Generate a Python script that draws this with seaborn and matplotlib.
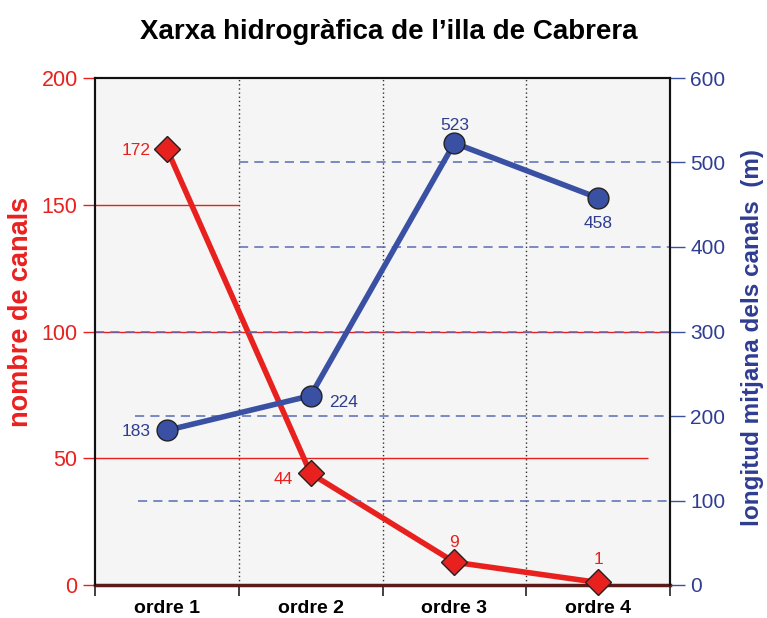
import matplotlib
matplotlib.use("Agg")
import matplotlib.pyplot as plt
import seaborn as sns
import pandas as pd
import numpy as np

categories = ["ordre 1", "ordre 2", "ordre 3", "ordre 4"]
nombre_canals = [172, 44, 9, 1]
longitud_mitjana = [183, 224, 523, 458]
left_ticks = [0, 50, 100, 150, 200]
right_ticks = [0, 100, 200, 300, 400, 500, 600]

RED = "#e8211f"
BLUE = "#3a50a3"
BLUE_TXT = "#2f3d92"

sns.set_theme(style="white")
plt.rcParams["font.family"] = ["Liberation Sans", "DejaVu Sans"]

df = pd.DataFrame({"ordre": categories, "n": nombre_canals, "l": longitud_mitjana})

fig = plt.figure(figsize=(7.67, 6.18), dpi=100)
ax = fig.add_axes([95/767, 1-585/618, 575/767, 507/618])
ax.set_facecolor("#f4f5f4")
ax2 = ax.twinx()

# vertical dotted separators
for xb in [0.5, 1.5, 2.5]:
    ax.axvline(xb, color="#333333", linestyle=(0, (1, 2)), linewidth=1.0, zorder=1)

# red grid (left axis)
ax.hlines(150, -0.5, 0.5, color=RED, linewidth=1.0, zorder=1)
ax.hlines(100, -0.5, 3.5, color=RED, linewidth=1.0, zorder=1)
ax.hlines(50, -0.5, 3.35, color=RED, linewidth=1.0, zorder=1)

# blue dashed grid (right axis)
dash = (0, (6, 4))
ax2.hlines(100, -0.2, 3.5, color="#5a6bb5", linewidth=1.1, linestyle=dash, zorder=1)
ax2.hlines(200, -0.22, 3.5, color="#5a6bb5", linewidth=1.1, linestyle=dash, zorder=1)
ax2.hlines(300, -0.5, 3.5, color="#5a6bb5", linewidth=1.1, linestyle=dash, zorder=1)
ax2.hlines(400, 0.5, 3.5, color="#5a6bb5", linewidth=1.1, linestyle=dash, zorder=1)
ax2.hlines(500, 0.5, 3.5, color="#5a6bb5", linewidth=1.1, linestyle=dash, zorder=1)

sns.lineplot(data=df, x="ordre", y="n", ax=ax, color=RED, linewidth=4,
             marker="D", markersize=13, markerfacecolor=RED, markeredgecolor="#222222",
             markeredgewidth=1.0, sort=False, zorder=3, clip_on=False)
sns.lineplot(data=df, x="ordre", y="l", ax=ax2, color=BLUE, linewidth=4,
             marker="o", markersize=15, markerfacecolor=BLUE, markeredgecolor="#222222",
             markeredgewidth=1.0, sort=False, zorder=3, clip_on=False)

ax.set_xlim(-0.5, 3.5)
ax.set_ylim(0, 200)
ax2.set_ylim(0, 600)

# annotations
red_off = [(-12, -1, "right", "center"), (-13, -4, "right", "center"),
           (0, 9, "center", "bottom"), (0, 11, "center", "bottom")]
for i, (v, (dx, dy, ha, va)) in enumerate(zip(nombre_canals, red_off)):
    ax.annotate(str(v), (i, v), xytext=(dx, dy), textcoords="offset points",
                ha=ha, va=va, color=RED, fontsize=12.5)
blue_off = [(-12, -1, "right", "center"), (13, -5, "left", "center"),
            (0, 7, "center", "bottom"), (0, -13, "center", "top")]
for i, (v, (dx, dy, ha, va)) in enumerate(zip(longitud_mitjana, blue_off)):
    ax2.annotate(str(v), (i, v), xytext=(dx, dy), textcoords="offset points",
                 ha=ha, va=va, color=BLUE_TXT, fontsize=12.5)

# axes styling
ax.set_yticks(left_ticks)
ax.set_yticklabels([str(t) for t in left_ticks])
ax.tick_params(axis="y", colors=RED, labelcolor=RED, labelsize=15.5, length=9, width=1, direction="out", left=True)
ax2.set_yticks(right_ticks)
ax2.set_yticklabels([str(t) for t in right_ticks])
ax2.tick_params(axis="y", colors=BLUE, labelcolor=BLUE_TXT, labelsize=15, length=11, width=1, direction="out", right=True)

ax.set_xticks(range(len(categories)))
ax.set_xticklabels(categories, fontsize=14, fontweight="bold", color="#000000")
ax.tick_params(axis="x", length=0, pad=11)
ax.set_xticks([-0.5, 0.5, 1.5, 2.5, 3.5], minor=True)
ax.tick_params(axis="x", which="minor", length=8, width=1.2, color="#222222", direction="out", bottom=True)

ax.set_xlabel("")
ax.set_ylabel("nombre de canals", color=RED, fontsize=19.5, fontweight="bold")
ax.yaxis.set_label_coords(-0.106, 0.538)
ax2.set_ylabel("longitud mitjana dels canals  (m)", color=BLUE_TXT, fontsize=17.5,
               fontweight="bold")
ax2.yaxis.set_label_coords(1.124, 0.488)

for a in (ax, ax2):
    for s in ["left", "right", "top"]:
        a.spines[s].set_color("#111111")
        a.spines[s].set_linewidth(1.5)
ax.spines["bottom"].set_color("#5a1a1a")
ax.spines["bottom"].set_linewidth(2.5)
ax2.spines["bottom"].set_visible(False)

fig.suptitle("Xarxa hidrogràfica de l’illa de Cabrera", fontsize=20, fontweight="bold",
             color="#000000", x=0.507, y=0.97)

fig.savefig("out.png", dpi=100)
